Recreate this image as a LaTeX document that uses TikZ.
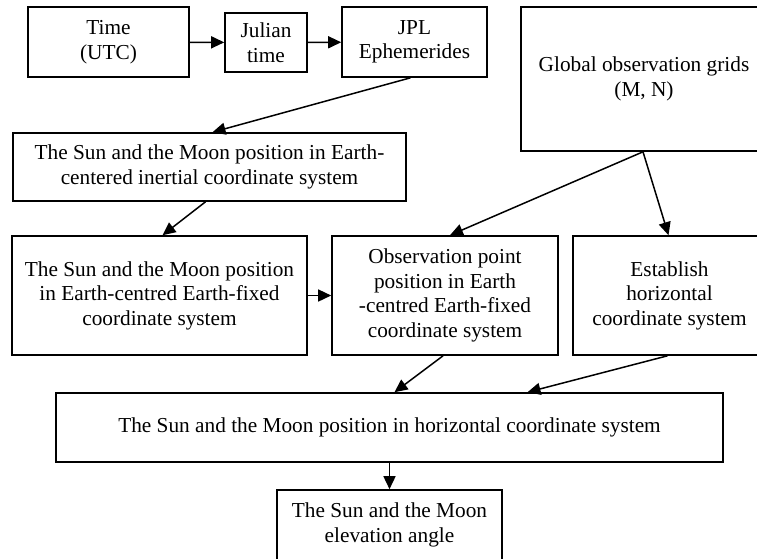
\documentclass[tikz,border=0pt]{standalone}
\usepackage{fontspec}
\setmainfont{Liberation Serif}
\usetikzlibrary{arrows.meta}
\begin{document}
\begin{tikzpicture}[x=1pt,y=-1pt,
    every node/.style={font=\fontsize{21.3}{24.5}\selectfont},
    box/.style={draw, line width=1.6pt, align=center, inner sep=0pt},
    arr/.style={line width=1.5pt, -{Triangle[length=13pt,width=12pt]}}]
  \useasboundingbox (0,0) rectangle (757,558);
  \clip (0,0) rectangle (757,558);
  \node[box, minimum width=161pt, minimum height=70pt] (time) at (108.5,42) {Time\\(UTC)};
  \node[box, minimum width=82pt, minimum height=59pt] (julian) at (266,42.5) {Julian\\time};
  \node[box, minimum width=145pt, minimum height=70pt] (jpl) at (414.5,42) {JPL\\Ephemerides};
  \node[box, minimum width=246pt, minimum height=144pt] (grids) at (644,79) {Global observation grids\\(M, N)};
  \node[box, minimum width=393pt, minimum height=68pt] (eci) at (209.5,167) {The Sun and the Moon position in Earth-\\centered inertial coordinate system};
  \node[box, minimum width=295pt, minimum height=119pt] (ecef) at (159.5,295.5) {The Sun and the Moon position\\in Earth-centred Earth-fixed\\coordinate system};
  \node[box, minimum width=226pt, minimum height=119pt] (obs) at (445,295.5) {Observation point\\position in Earth\\-centred Earth-fixed\\coordinate system};
  \node[box, minimum width=193pt, minimum height=119pt] (horsys) at (669.5,295.5) {Establish\\horizontal\\coordinate system};
  \node[box, minimum width=667pt, minimum height=69pt] (horpos) at (389.5,427.5) {The Sun and the Moon position in horizontal coordinate system};
  \node[box, minimum width=225pt, minimum height=70pt] (elev) at (389.5,525) {The Sun and the Moon\\elevation angle};
  \draw[arr] (time) -- (julian);
  \draw[arr] (julian) -- (jpl);
  \draw[arr] ([xshift=-4pt]jpl.south) -- ([xshift=3pt]eci.north);
  \draw[arr] ([xshift=-4pt]eci.south) -- ([xshift=3pt]ecef.north);
  \draw[arr] (ecef) -- (obs);
  \draw[arr] ([xshift=-1pt]grids.south) -- ([xshift=5pt]obs.north);
  \draw[arr] ([xshift=-1pt]grids.south) -- ([xshift=-1pt]horsys.north);
  \draw[arr] ([xshift=-2pt]obs.south) -- ([xshift=5pt]horpos.north);
  \draw[arr] ([xshift=-2pt]horsys.south) -- ([xshift=138pt]horpos.north);
  \draw[arr] (horpos) -- (elev);
\end{tikzpicture}
\end{document}
